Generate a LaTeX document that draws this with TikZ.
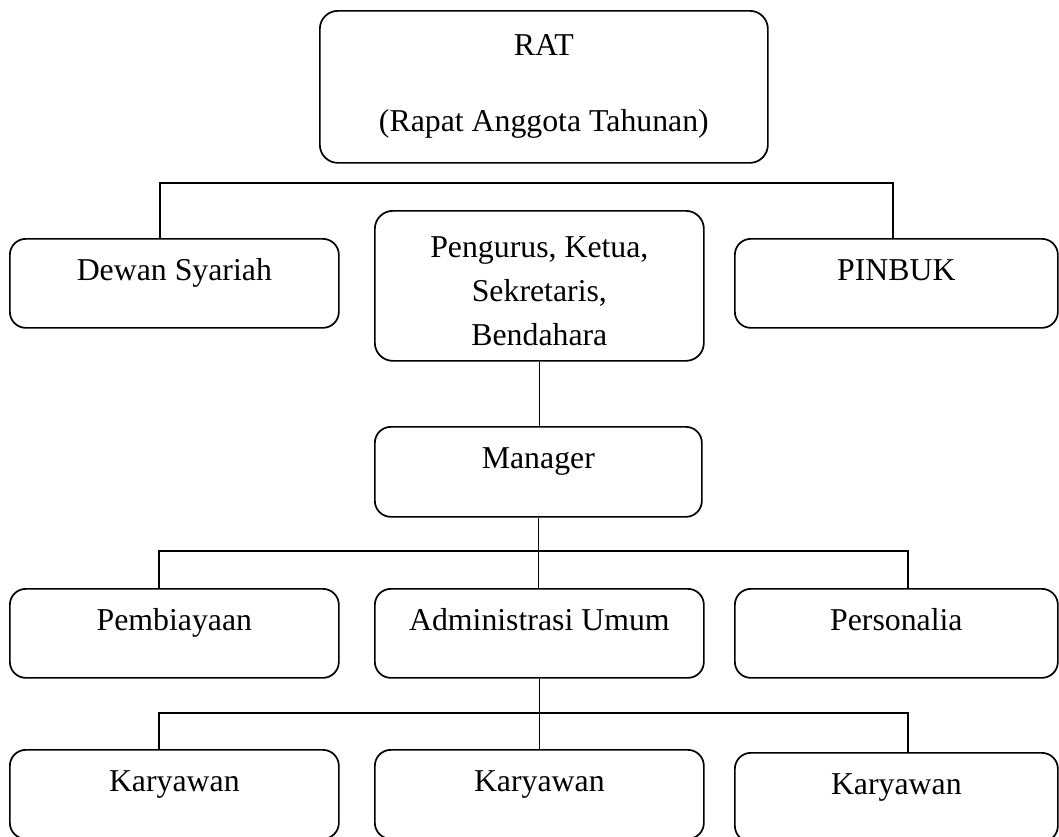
\documentclass[tikz,border=0pt]{standalone}
\usepackage{fontspec}
\setmainfont{Liberation Serif}
\begin{document}
\begin{tikzpicture}[x=1pt,y=-1pt,
  every node/.style={font=\fontsize{31.8}{38}\selectfont},
  unit/.style={draw,line width=1.7pt,rounded corners=16pt,anchor=north west,inner sep=0pt,
    minimum width=329pt,text height=42pt,text depth=47pt},
  tallunit/.style={draw,line width=1.7pt,rounded corners=18pt,anchor=north west,inner sep=0pt,align=center},
  link/.style={line width=1.7pt}
  ]
    \useasboundingbox (0,0) rectangle (1059,836);
    \clip (0,0) rectangle (1059,836);

    \node[tallunit,minimum width=448pt,minimum height=152pt,font=\fontsize{31.8}{76}\selectfont] (rat) at (319,10) {RAT\\(Rapat Anggota Tahunan)};
    \node[unit] (dewan) at (9,238) {Dewan Syariah};
    \node[tallunit,minimum width=329pt,minimum height=150pt,font=\fontsize{31.8}{44}\selectfont] (pengurus) at (374,210) {\rule{0pt}{31pt}Pengurus, Ketua,\\Sekretaris,\\Bendahara};
    \node[unit,minimum width=323pt] (pinbuk) at (734,238) {PINBUK};
    \node[unit,minimum width=327pt,text depth=48pt] (manager) at (374,426) {Manager};
    \node[unit] (pembiayaan) at (9,588) {Pembiayaan};
    \node[unit] (admin) at (374,588) {Administrasi Umum};
    \node[unit,minimum width=323pt] (personalia) at (734,588) {Personalia};
    \node[unit] (karyawanA) at (9,749) {Karyawan};
    \node[unit] (karyawanB) at (374,749) {Karyawan};
    \node[unit,minimum width=323pt] (karyawanC) at (734,752) {Karyawan};

    % garis penghubung
    \coordinate (topL) at (160,183);
    \coordinate (topR) at (893,183);
    \draw[link] (topL |- dewan.north) -- (topL) -- (topR) -- (topR |- pinbuk.north);
    \draw[link] (pengurus.south) -- (pengurus.south |- manager.north);

    \coordinate (midL) at (159,551);
    \coordinate (midR) at (908,551);
    \draw[link] (manager.south) -- (manager.south |- admin.north);
    \draw[link] (midL |- pembiayaan.north) -- (midL) -- (midR) -- (midR |- personalia.north);

    \coordinate (lowL) at (159,713);
    \coordinate (lowR) at (908,713);
    \draw[link] (admin.south) -- (admin.south |- karyawanB.north);
    \draw[link] (lowL |- karyawanA.north) -- (lowL) -- (lowR) -- (lowR |- karyawanC.north);
\end{tikzpicture}
\end{document}
